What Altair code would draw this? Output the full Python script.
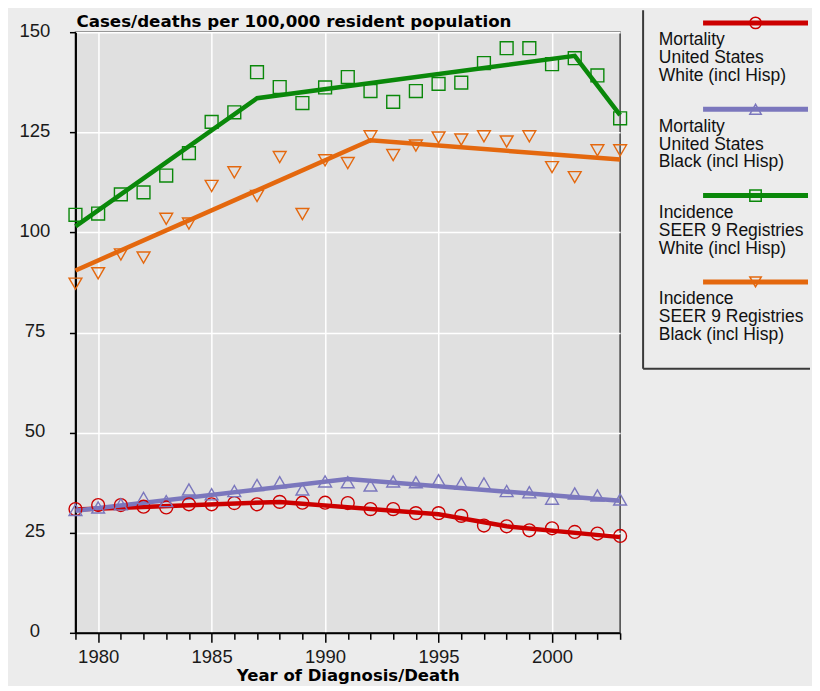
import altair as alt
import pandas as pd

# ---------------- data ----------------
years = list(range(1979, 2004))

series_keys = ["mort_white", "mort_black", "inc_white", "inc_black"]
legend_lines = [
    ["Mortality", "United States", "White (incl Hisp)"],
    ["Mortality", "United States", "Black (incl Hisp)"],
    ["Incidence", "SEER 9 Registries", "White (incl Hisp)"],
    ["Incidence", "SEER 9 Registries", "Black (incl Hisp)"],
]
colors = ["#cc0000", "#7b77bd", "#0a880a", "#e4680e"]
shapes = ["circle", "triangle-up", "square", "triangle-down"]

mort_white = [30.9, 31.9, 31.9, 31.5, 31.3, 32.1, 32.1, 32.4, 32.1, 32.7, 32.5, 32.5, 32.4,
              30.9, 30.9, 29.9, 29.9, 29.2, 26.8, 26.6, 25.6, 26.1, 25.2, 24.8, 24.2]
mort_black = [30.7, 31.3, 32.1, 33.7, 32.9, 35.8, 34.6, 35.4, 36.9, 37.6, 35.8, 37.8, 37.6,
              36.8, 37.8, 37.6, 38.1, 37.3, 37.3, 35.4, 35.1, 33.5, 34.8, 34.3, 33.3]
inc_white = [104.4, 104.7, 109.5, 110.0, 114.2, 119.8, 127.6, 130.0, 140.0, 136.3, 132.3, 136.2, 138.8,
             135.3, 132.6, 135.3, 137.1, 137.4, 142.3, 146.0, 146.0, 142.0, 143.5, 139.2, 128.5]
inc_black = [87.2, 89.8, 94.5, 93.7, 103.4, 102.2, 111.6, 115.0, 109.1, 118.8, 104.6, 118.0, 117.3,
             124.0, 119.3, 121.7, 123.7, 123.2, 124.0, 122.7, 124.0, 116.3, 113.8, 120.5, 120.5]

# fitted (joinpoint) trend segments
fit_mort_white_years = [1979, 1988, 1995, 1998, 2003]
fit_mort_white_vals = [30.8, 32.7, 29.6, 26.6, 23.9]
fit_mort_black_years = [1979, 1991, 2003]
fit_mort_black_vals = [30.5, 38.4, 33.0]
fit_inc_white_years = [1979, 1987, 2001, 2003]
fit_inc_white_vals = [101.5, 133.5, 144.1, 129.3]
fit_inc_black_years = [1979, 1992, 2003]
fit_inc_black_vals = [90.5, 123.0, 118.2]

title_text = "Cases/deaths per 100,000 resident population"
x_title = "Year of Diagnosis/Death"
y_ticks = [0, 25, 50, 75, 100, 125, 150]

# ---------------- tables ----------------
obs_lists = [mort_white, mort_black, inc_white, inc_black]
obs_rows = []
for key, vals in zip(series_keys, obs_lists):
    for yr, v in zip(years, vals):
        obs_rows.append({"year": yr, "rate": v, "series": key})
obs_df = pd.DataFrame(obs_rows)

fit_pairs = [
    (fit_mort_white_years, fit_mort_white_vals),
    (fit_mort_black_years, fit_mort_black_vals),
    (fit_inc_white_years, fit_inc_white_vals),
    (fit_inc_black_years, fit_inc_black_vals),
]
fit_rows = []
for key, (ys, vs) in zip(series_keys, fit_pairs):
    for yr, v in zip(ys, vs):
        fit_rows.append({"year": yr, "rate": v, "series": key})
fit_df = pd.DataFrame(fit_rows)

leg_df = pd.DataFrame({
    "series": series_keys,
    "idx": list(range(len(series_keys))),
    "label": ["\n".join(l) for l in legend_lines],
})
title_df = pd.DataFrame({"t": [title_text]})

# ---------------- scales / axes ----------------
color_scale = alt.Scale(domain=series_keys, range=colors)
shape_scale = alt.Scale(domain=series_keys, range=shapes)
x_scale = alt.Scale(domain=[1979, 2003], nice=False, zero=False)
y_scale = alt.Scale(domain=[0, 150], nice=False)

major = "datum.value % 5 === 0"
x_axis = alt.Axis(
    values=years, format="d",
    labelExpr=f"{major} ? datum.label : ''",
    grid=True, gridColor="white", gridWidth=1.5,
    gridOpacity={"condition": {"test": major, "value": 1}, "value": 0},
    tickSize={"condition": {"test": major, "value": 9.5}, "value": 6.5},
    tickColor="black", tickWidth=1.5,
    domainColor="black", domainWidth=2,
    labelFont="Liberation Sans", labelFontSize=18.5, labelColor="#1a1a1a",
    labelPadding=5, labelOverlap=False, labelFlush=False,
    titleFont="DejaVu Sans", titleFontSize=16.5, titleFontWeight="bold",
    titleColor="black", titlePadding=2,
)
y_axis = alt.Axis(
    values=y_ticks, format="d",
    grid=True, gridColor="white", gridWidth=1.5,
    tickSize=6, tickColor="black", tickWidth=1.5,
    domainColor="black", domainWidth=2,
    labelFont="Liberation Sans", labelFontSize=18.5, labelColor="#1a1a1a",
    labelAlign="center", labelBaseline="middle", labelPadding=35,
    labelOffset=-2, labelFlush=False, labelOverlap=False,
)

X = alt.X("year:Q", scale=x_scale, axis=x_axis, title=x_title)
Y = alt.Y("rate:Q", scale=y_scale, axis=y_axis, title=None)
C = alt.Color("series:N", scale=color_scale, legend=None)
S = alt.Shape("series:N", scale=shape_scale, legend=None)

lines = alt.Chart(fit_df).mark_line(strokeWidth=4.5).encode(x=X, y=Y, color=C, detail="series:N")
points = alt.Chart(obs_df).mark_point(filled=False, size=165, strokeWidth=1.4, opacity=1).encode(
    x=X, y=Y, color=C, shape=S)
title_mark = alt.Chart(title_df).mark_text(
    align="left", baseline="alphabetic", font="DejaVu Sans", fontSize=16.7, fontWeight="bold",
    color="black").encode(x=alt.value(1), y=alt.value(-5), text="t:N")

PLOT_W, PLOT_H = 545, 601
main = alt.layer(lines, points, title_mark).properties(
    width=PLOT_W, height=PLOT_H,
    view=alt.ViewBackground(fill="#e0e0e0", stroke="#444444", strokeWidth=1.5),
)

# ---------------- legend panel ----------------
# panel view shares the plot's top edge; the legend box starts above it (at the page top)
ABOVE = 22
LEG_W, LEG_H = 167, 336.7
leg_y = alt.Y("idx:Q", scale=alt.Scale(domain=[0.1076, 4.005], reverse=True, nice=False, zero=False),
              axis=None)
leg_c = alt.Color("series:N", scale=color_scale, legend=None)
leg_s = alt.Shape("series:N", scale=shape_scale, legend=None)

one = pd.DataFrame({"k": [0]})
border_left = alt.Chart(one).mark_rule(color="#3a3a3a", strokeWidth=2).encode(
    x=alt.value(0), y=alt.value(-ABOVE), y2=alt.value(LEG_H))
border_bottom = alt.Chart(one).mark_rule(color="#3a3a3a", strokeWidth=2).encode(
    x=alt.value(0), x2=alt.value(LEG_W), y=alt.value(LEG_H))
leg_line = alt.Chart(leg_df).mark_rule(strokeWidth=5).encode(
    x=alt.value(60), x2=alt.value(165), y=leg_y, color=leg_c)
leg_pt = alt.Chart(leg_df).mark_point(filled=False, size=130, strokeWidth=1.5, opacity=1).encode(
    x=alt.value(112.5), y=leg_y, color=leg_c, shape=leg_s)
leg_text = alt.Chart(leg_df).mark_text(
    align="left", baseline="alphabetic", dy=22.3, lineBreak="\n", lineHeight=18,
    font="Liberation Sans", fontSize=17.5, color="#111111").encode(
    x=alt.value(15.7), y=leg_y, text="label:N")

legend = alt.layer(border_left, border_bottom, leg_line, leg_pt, leg_text).properties(
    width=LEG_W, height=LEG_H,
    view=alt.ViewBackground(stroke="transparent", fill="transparent"),
)

chart = alt.hconcat(main, legend, spacing=11).configure(
    background="#ececec",
    padding={"left": 9.5, "top": 0, "right": 0, "bottom": 0},
)

chart.save("out.html", embed_options={"renderer": "svg", "actions": False})
